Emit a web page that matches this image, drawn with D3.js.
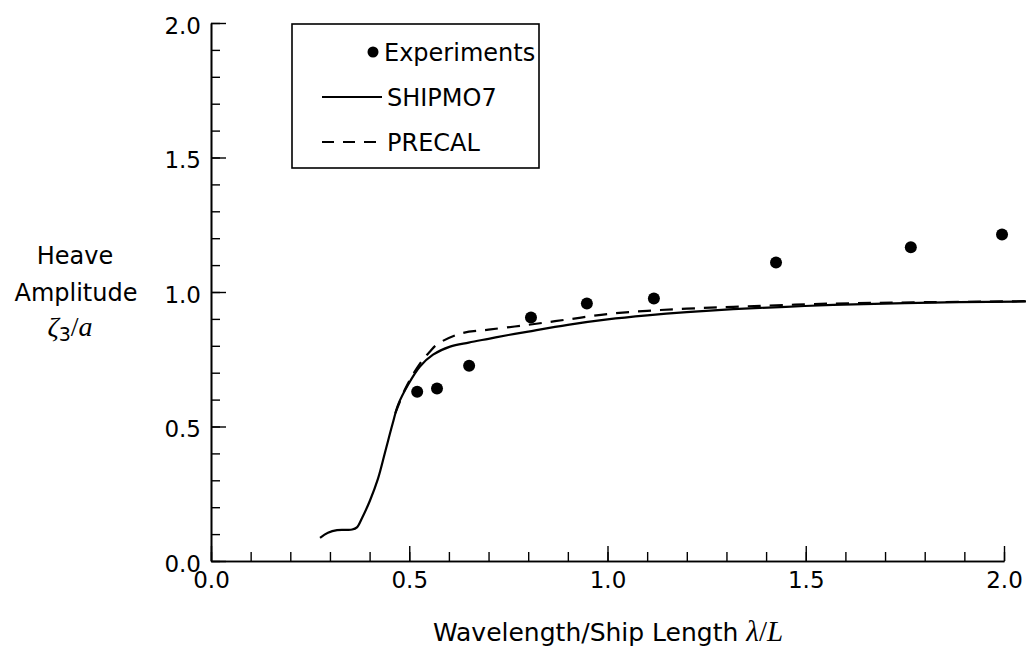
<!DOCTYPE html>
<html>
<head>
<meta charset="utf-8">
<script src="https://cdn.jsdelivr.net/npm/d3@7"></script>
<style>
  html, body { margin: 0; padding: 0; background: #fff; }
  svg { display: block; }
  text { font-family: "DejaVu Sans", sans-serif; fill: #000; }
  .math { font-family: "Liberation Serif", "DejaVu Serif", serif; font-style: italic; }
</style>
</head>
<body>
<svg id="chart" width="1026" height="650"></svg>
<script>
// ---- data ----
const expX = [0.520, 0.570, 0.651, 0.807, 0.948, 1.117, 1.425, 1.765, 1.995];
const expY = [0.629, 0.641, 0.726, 0.905, 0.957, 0.976, 1.110, 1.166, 1.214];

const shipmoX = [0.275, 0.295, 0.318, 0.340, 0.356, 0.368, 0.381, 0.401, 0.421, 0.440, 0.458, 0.472, 0.497, 0.527, 0.560, 0.603, 0.650, 0.700, 0.750, 0.800, 0.900, 1.000, 1.100, 1.200, 1.317, 1.450, 1.569, 1.750, 2.060];
const shipmoY = [0.086, 0.105, 0.115, 0.116, 0.117, 0.125, 0.160, 0.225, 0.305, 0.410, 0.510, 0.581, 0.655, 0.723, 0.767, 0.797, 0.812, 0.826, 0.840, 0.853, 0.878, 0.898, 0.913, 0.925, 0.936, 0.945, 0.952, 0.959, 0.965];

const precalX = [0.465, 0.490, 0.510, 0.535, 0.552, 0.570, 0.628, 0.700, 0.800, 0.900, 1.000, 1.100, 1.200, 1.317, 1.569, 1.800, 2.060];
const precalY = [0.550, 0.640, 0.695, 0.750, 0.778, 0.805, 0.845, 0.860, 0.878, 0.898, 0.918, 0.930, 0.938, 0.945, 0.957, 0.962, 0.966];

const xTickValues = [0.0, 0.5, 1.0, 1.5, 2.0];
const xTickLabels = ["0.0", "0.5", "1.0", "1.5", "2.0"];
const yTickValues = [0.0, 0.5, 1.0, 1.5, 2.0];
const yTickLabels = ["0.0", "0.5", "1.0", "1.5", "2.0"];
const minorStep = 0.1;

const legendLabels = ["Experiments", "SHIPMO7", "PRECAL"];

// ---- layout ----
const FONT = '"DejaVu Sans", sans-serif';
const svg = d3.select("#chart");
const x = d3.scaleLinear().domain([0, 2]).range([211, 1004]);
const y = d3.scaleLinear().domain([0, 2]).range([561, 23]);
const minorTicks = d3.range(0, 2 + 1e-9, minorStep).map(v => +v.toFixed(2));

const gx = svg.append("g").attr("transform", `translate(0,${y(0)})`);
gx.call(d3.axisBottom(x).tickValues(minorTicks).tickSizeInner(-9).tickSizeOuter(0).tickFormat(""));
const gx2 = svg.append("g").attr("transform", `translate(0,${y(0)})`);
gx2.call(d3.axisBottom(x).tickValues(xTickValues).tickSizeInner(-15).tickSizeOuter(0).tickPadding(11)
  .tickFormat((d, i) => xTickLabels[i]));

const gy = svg.append("g").attr("transform", `translate(${x(0)},0)`);
gy.call(d3.axisLeft(y).tickValues(minorTicks).tickSizeInner(-9).tickSizeOuter(0).tickFormat(""));
const gy2 = svg.append("g").attr("transform", `translate(${x(0)},0)`);
gy2.call(d3.axisLeft(y).tickValues(yTickValues).tickSizeInner(-15).tickSizeOuter(0).tickPadding(10)
  .tickFormat((d, i) => yTickLabels[i]));

svg.selectAll(".domain").attr("stroke", "#000").attr("stroke-width", 1.6);
svg.selectAll(".tick line").attr("stroke", "#000").attr("stroke-width", 1.4);
svg.selectAll(".tick text").style("font-family", FONT).style("font-size", "23px").attr("fill", "#000");
gy2.selectAll(".tick text").attr("dy", "0.45em");

// ---- curves ----
const line = d3.line().x(d => x(d[0])).y(d => y(d[1])).curve(d3.curveCatmullRom.alpha(0.5));
const shipmo = shipmoX.map((v, i) => [v, shipmoY[i]]);
const precal = precalX.map((v, i) => [v, precalY[i]]);

svg.append("path").datum(precal).attr("d", line).attr("fill", "none")
  .attr("stroke", "#000").attr("stroke-width", 2.2).attr("stroke-dasharray", "13,9");
svg.append("path").datum(shipmo).attr("d", line).attr("fill", "none")
  .attr("stroke", "#000").attr("stroke-width", 2.2);

svg.append("g").selectAll("circle").data(expX).join("circle")
  .attr("cx", d => x(d)).attr("cy", (d, i) => y(expY[i])).attr("r", 6).attr("fill", "#000");

// ---- legend ----
const lg = svg.append("g");
lg.append("rect").attr("x", 292).attr("y", 24).attr("width", 247).attr("height", 144)
  .attr("fill", "#fff").attr("stroke", "#000").attr("stroke-width", 1.6);
lg.append("circle").attr("cx", 373).attr("cy", 52).attr("r", 5.5).attr("fill", "#000");
lg.append("line").attr("x1", 322).attr("x2", 382).attr("y1", 97).attr("y2", 97)
  .attr("stroke", "#000").attr("stroke-width", 2);
lg.append("line").attr("x1", 322).attr("x2", 382).attr("y1", 142).attr("y2", 142)
  .attr("stroke", "#000").attr("stroke-width", 2).attr("stroke-dasharray", "12,9");
[61, 106, 151].forEach((yy, i) => {
  lg.append("text").attr("x", i === 0 ? 384 : 387).attr("y", yy).style("font-size", "24px").text(legendLabels[i]);
});

// ---- axis titles ----
const yt = svg.append("g").attr("text-anchor", "middle");
yt.append("text").attr("x", 75).attr("y", 264).style("font-size", "24px").text("Heave");
yt.append("text").attr("x", 76).attr("y", 301).style("font-size", "24px").text("Amplitude");
const zt = yt.append("text").attr("x", 70).attr("y", 336).style("font-size", "28px");
zt.append("tspan").attr("class", "math").text("ζ");
zt.append("tspan").style("font-size", "19px").attr("dy", "5").text("3");
zt.append("tspan").attr("dy", "-5").style("font-family", '"Liberation Serif", serif').text("/");
zt.append("tspan").attr("class", "math").text("a");

const xt = svg.append("text").attr("x", 608).attr("y", 641).attr("text-anchor", "middle").style("font-size", "25px");
xt.append("tspan").text("Wavelength/Ship Length ");
xt.append("tspan").attr("class", "math").style("font-size", "29px").text("λ");
xt.append("tspan").style("font-family", '"Liberation Serif", serif').style("font-size", "29px").text("/");
xt.append("tspan").attr("class", "math").style("font-size", "29px").text("L");
</script>
</body>
</html>
